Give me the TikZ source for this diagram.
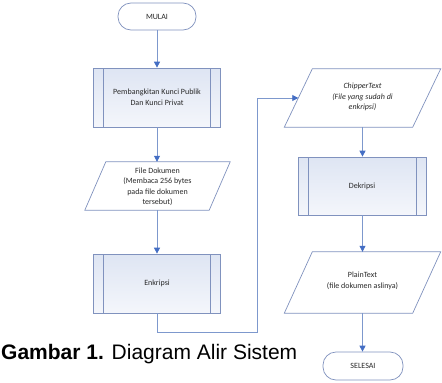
\documentclass[tikz,border=0pt]{standalone}
\usepackage{fontspec}
\setmainfont{Carlito}
\newfontfamily\captionfont{Liberation Sans}
\usetikzlibrary{arrows.meta,calc}

\definecolor{edge}{RGB}{128,146,190}
\definecolor{wire}{RGB}{125,152,205}
\definecolor{tipblue}{RGB}{68,110,196}
\definecolor{fillA}{RGB}{222,229,243}
\definecolor{fillB}{RGB}{244,246,251}
\definecolor{ink}{RGB}{40,40,40}

\tikzset{
  txt/.style={font=\fontsize{8}{10.5}\selectfont, text=ink, align=center, inner sep=0pt},
  terminal/.style={txt, draw=edge, fill=white, rounded corners=13pt, line width=0.7pt},
  procbox/.style={txt, draw=edge, line width=0.7pt, top color=fillA, bottom color=fillB,
    minimum width=127pt, minimum height=59pt,
    path picture={
      \draw[edge, line width=0.7pt]
        ([xshift=10pt]path picture bounding box.north west) -- ([xshift=10pt]path picture bounding box.south west)
        ([xshift=-10pt]path picture bounding box.north east) -- ([xshift=-10pt]path picture bounding box.south east);
    }},
  iobody/.style={txt, minimum width=#1},
  ioline/.style={draw=edge, fill=white, line width=0.7pt, line join=miter},
  flow/.style={draw=wire, line width=0.8pt, -{Triangle[length=6pt, width=6pt, color=tipblue]}},
  plainwire/.style={draw=wire, line width=0.8pt}
}

% parallelogram drawn around a rectangular text node; #2 = half the slant
\newcommand{\ioshape}[2]{%
  \path[ioline] ($(#1.north west)+(#2,0)$) -- ($(#1.north east)+(#2,0)$)
    -- ($(#1.south east)-(#2,0)$) -- ($(#1.south west)-(#2,0)$) -- cycle;}

\begin{document}
\begin{tikzpicture}[x=1pt, y=-1pt]
\useasboundingbox (0,0) rectangle (442,383);

% left column
\node[terminal, minimum width=78pt, minimum height=27pt] (mulai) at (157,16.5) {MULAI};
\node[procbox] (kunci) at (157,97.5) {Pembangkitan Kunci Publik\\Dan Kunci Privat};

\path (157.5,186) node[iobody=124pt, minimum height=48pt] (dokA) {};
\ioshape{dokA}{10.5}
\node[txt] (dok) at (157.5,187) {File Dokumen\\(Membaca 256 bytes\\pada file dokumen\\tersebut)};

\node[procbox, minimum height=59pt] (enk) at (157,283.5) {Enkripsi};

% right column
\path (362.5,98) node[iobody=128pt, minimum height=58pt] (cipA) {};
\ioshape{cipA}{14}
\node[txt, font=\fontsize{8}{10.5}\selectfont\itshape] (cip) at (362.5,97) {ChipperText\\(File yang sudah di\\enkripsi)};

\node[procbox, minimum width=128pt, minimum height=58pt] (dek) at (362,186) {Dekripsi};

\path (362.5,282.5) node[iobody=128pt, minimum height=61pt] (plnA) {};
\ioshape{plnA}{14}
\node[txt] (pln) at (362.5,281) {PlainText\\(file dokumen aslinya)};

\node[terminal, minimum width=80pt, minimum height=28pt] (selesai) at (363,366) {SELESAI};

% connectors
\draw[flow] (mulai.south) -- (kunci.north);
\draw[flow] (kunci.south) -- (kunci.south |- dokA.north);
\draw[flow] (dokA.south -| enk.north) -- (enk.north);
\coordinate (turn) at (257,332);
\draw[flow] (enk.south) |- (turn) |- (cipA.west);
\draw[flow] (cipA.south) -- (cipA.south |- dek.north);
\draw[flow] (dek.south -| plnA.north) -- (plnA.north);
\draw[flow] (plnA.south) -- (plnA.south |- selesai.north);

% caption
\node[anchor=base west, inner sep=0pt, font=\captionfont\fontsize{21}{24}\selectfont] (cap) at (1,359)
  {\textbf{Gambar 1.} Diagram Alir Sistem};
\end{tikzpicture}
\end{document}
